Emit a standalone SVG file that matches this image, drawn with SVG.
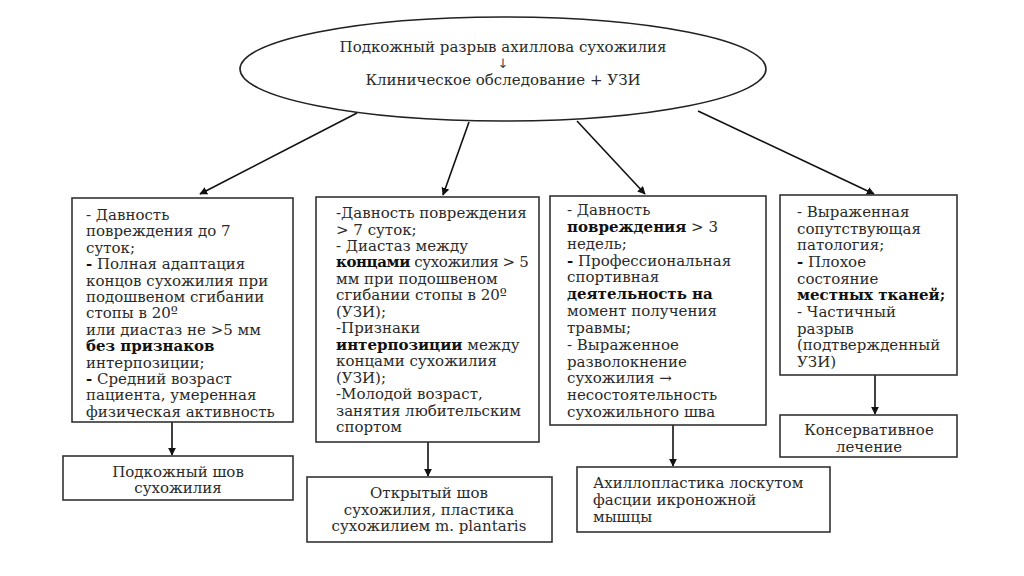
<svg xmlns="http://www.w3.org/2000/svg" width="1024" height="576" viewBox="0 0 1024 576">
<defs>
<style>
.box{fill:#fff;stroke:#333;stroke-width:1.6}
.t{font-family:"DejaVu Serif","Liberation Serif",serif;font-size:15px;fill:#2a2a2a}
.b{font-weight:bold;fill:#111}
.c{text-anchor:middle}
.arr{font-family:"DejaVu Sans","Liberation Sans",sans-serif;font-size:13px;fill:#444}
.con{stroke:#111;stroke-width:1.6;fill:none;marker-end:url(#ah)}
</style>
<marker id="ah" viewBox="0 0 10 10" refX="9" refY="5" markerWidth="8" markerHeight="8" markerUnits="userSpaceOnUse" orient="auto">
<path d="M0,0 L10,5 L0,10 z" fill="#111"/>
</marker>
</defs>
<rect width="1024" height="576" fill="#fff"/>

<g id="connectors">
<line class="con" x1="357" y1="113" x2="200" y2="194"/>
<line class="con" x1="469" y1="122" x2="443" y2="195"/>
<line class="con" x1="577" y1="121" x2="645" y2="194"/>
<line class="con" x1="698" y1="111" x2="874" y2="194"/>
<line class="con" x1="172" y1="422" x2="172" y2="455"/>
<line class="con" x1="428" y1="442" x2="428" y2="476"/>
<line class="con" x1="673" y1="425" x2="673" y2="466"/>
<line class="con" x1="875" y1="375" x2="875" y2="414"/>
</g>

<g id="root">
<ellipse cx="503" cy="69" rx="263" ry="52" fill="#fff" stroke="#222" stroke-width="1.6"/>
<text class="t c" x="503" y="52">Подкожный разрыв ахиллова сухожилия</text>
<text class="arr c" x="503" y="68">↓</text>
<text class="t c" x="503" y="85">Клиническое обследование + УЗИ</text>
</g>

<g id="crit1">
<rect class="box" x="72" y="198" width="221" height="224"/>
<text class="t" x="86" y="220">- Давность</text>
<text class="t" x="86" y="236.4">повреждения до 7</text>
<text class="t" x="86" y="252.8">суток;</text>
<text class="t" x="86" y="269.2"><tspan class="b">-</tspan> Полная адаптация</text>
<text class="t" x="86" y="285.6">концов сухожилия при</text>
<text class="t" x="86" y="302">подошвеном сгибании</text>
<text class="t" x="86" y="318.4">стопы в 20º</text>
<text class="t" x="86" y="334.8">или диастаз не &gt;5 мм</text>
<text class="t" x="86" y="351.2"><tspan class="b">без признаков</tspan></text>
<text class="t" x="86" y="367.6">интерпозиции;</text>
<text class="t" x="86" y="384"><tspan class="b">-</tspan> Средний возраст</text>
<text class="t" x="86" y="400.4">пациента, умеренная</text>
<text class="t" x="86" y="416.8">физическая активность</text>
</g>

<g id="crit2">
<rect class="box" x="316" y="197" width="223" height="245"/>
<text class="t" x="336" y="218">-Давность повреждения</text>
<text class="t" x="336" y="234.5">&gt; 7 суток;</text>
<text class="t" x="336" y="250.9">- Диастаз между</text>
<text class="t" x="336" y="267.4" letter-spacing="-0.4"><tspan class="b">концами</tspan> сухожилия &gt; 5</text>
<text class="t" x="336" y="283.8">мм при подошвеном</text>
<text class="t" x="336" y="300.3">сгибании стопы в 20º</text>
<text class="t" x="336" y="316.8">(УЗИ);</text>
<text class="t" x="336" y="333.2">-Признаки</text>
<text class="t" x="336" y="349.7"><tspan class="b">интерпозиции</tspan> между</text>
<text class="t" x="336" y="366.1">концами сухожилия</text>
<text class="t" x="336" y="382.6">(УЗИ);</text>
<text class="t" x="336" y="399.1">-Молодой возраст,</text>
<text class="t" x="336" y="415.5">занятия любительским</text>
<text class="t" x="336" y="432">спортом</text>
</g>

<g id="crit3">
<rect class="box" x="550" y="196" width="216" height="229"/>
<text class="t" x="567" y="215">- Давность</text>
<text class="t" x="567" y="231.8"><tspan class="b">повреждения</tspan> &gt; 3</text>
<text class="t" x="567" y="248.7">недель;</text>
<text class="t" x="567" y="265.5"><tspan class="b">-</tspan> Профессиональная</text>
<text class="t" x="567" y="282.3">спортивная</text>
<text class="t" x="567" y="299.2"><tspan class="b">деятельность на</tspan></text>
<text class="t" x="567" y="316">момент получения</text>
<text class="t" x="567" y="332.8">травмы;</text>
<text class="t" x="567" y="349.7">- Выраженное</text>
<text class="t" x="567" y="366.5">разволокнение</text>
<text class="t" x="567" y="383.3">сухожилия →</text>
<text class="t" x="567" y="400.2">несостоятельность</text>
<text class="t" x="567" y="417">сухожильного шва</text>
</g>

<g id="crit4">
<rect class="box" x="780" y="195" width="177" height="180"/>
<text class="t" x="797" y="217">- Выраженная</text>
<text class="t" x="797" y="233.7">сопутствующая</text>
<text class="t" x="797" y="250.3">патология;</text>
<text class="t" x="797" y="267"><tspan class="b">-</tspan> Плохое</text>
<text class="t" x="797" y="283.7">состояние</text>
<text class="t" x="797" y="300.3"><tspan class="b">местных тканей;</tspan></text>
<text class="t" x="797" y="317">- Частичный</text>
<text class="t" x="797" y="333.7">разрыв</text>
<text class="t" x="797" y="350.3">(подтвержденный</text>
<text class="t" x="797" y="367">УЗИ)</text>
</g>

<g id="res1">
<rect class="box" x="63" y="456" width="230" height="44"/>
<text class="t c" x="178" y="477">Подкожный шов</text>
<text class="t c" x="178" y="493">сухожилия</text>
</g>

<g id="res2">
<rect class="box" x="307" y="477" width="245" height="65"/>
<text class="t c" x="429" y="498">Открытый шов</text>
<text class="t c" x="429" y="515">сухожилия, пластика</text>
<text class="t c" x="429" y="531">сухожилием m. plantaris</text>
</g>

<g id="res3">
<rect class="box" x="577" y="467" width="253" height="65"/>
<text class="t" x="593" y="488">Ахиллопластика лоскутом</text>
<text class="t" x="593" y="505">фасции икроножной</text>
<text class="t" x="593" y="522">мышцы</text>
</g>

<g id="res4">
<rect class="box" x="780" y="415" width="177" height="42"/>
<text class="t c" x="869" y="435">Консервативное</text>
<text class="t c" x="869" y="452">лечение</text>
</g>
</svg>
